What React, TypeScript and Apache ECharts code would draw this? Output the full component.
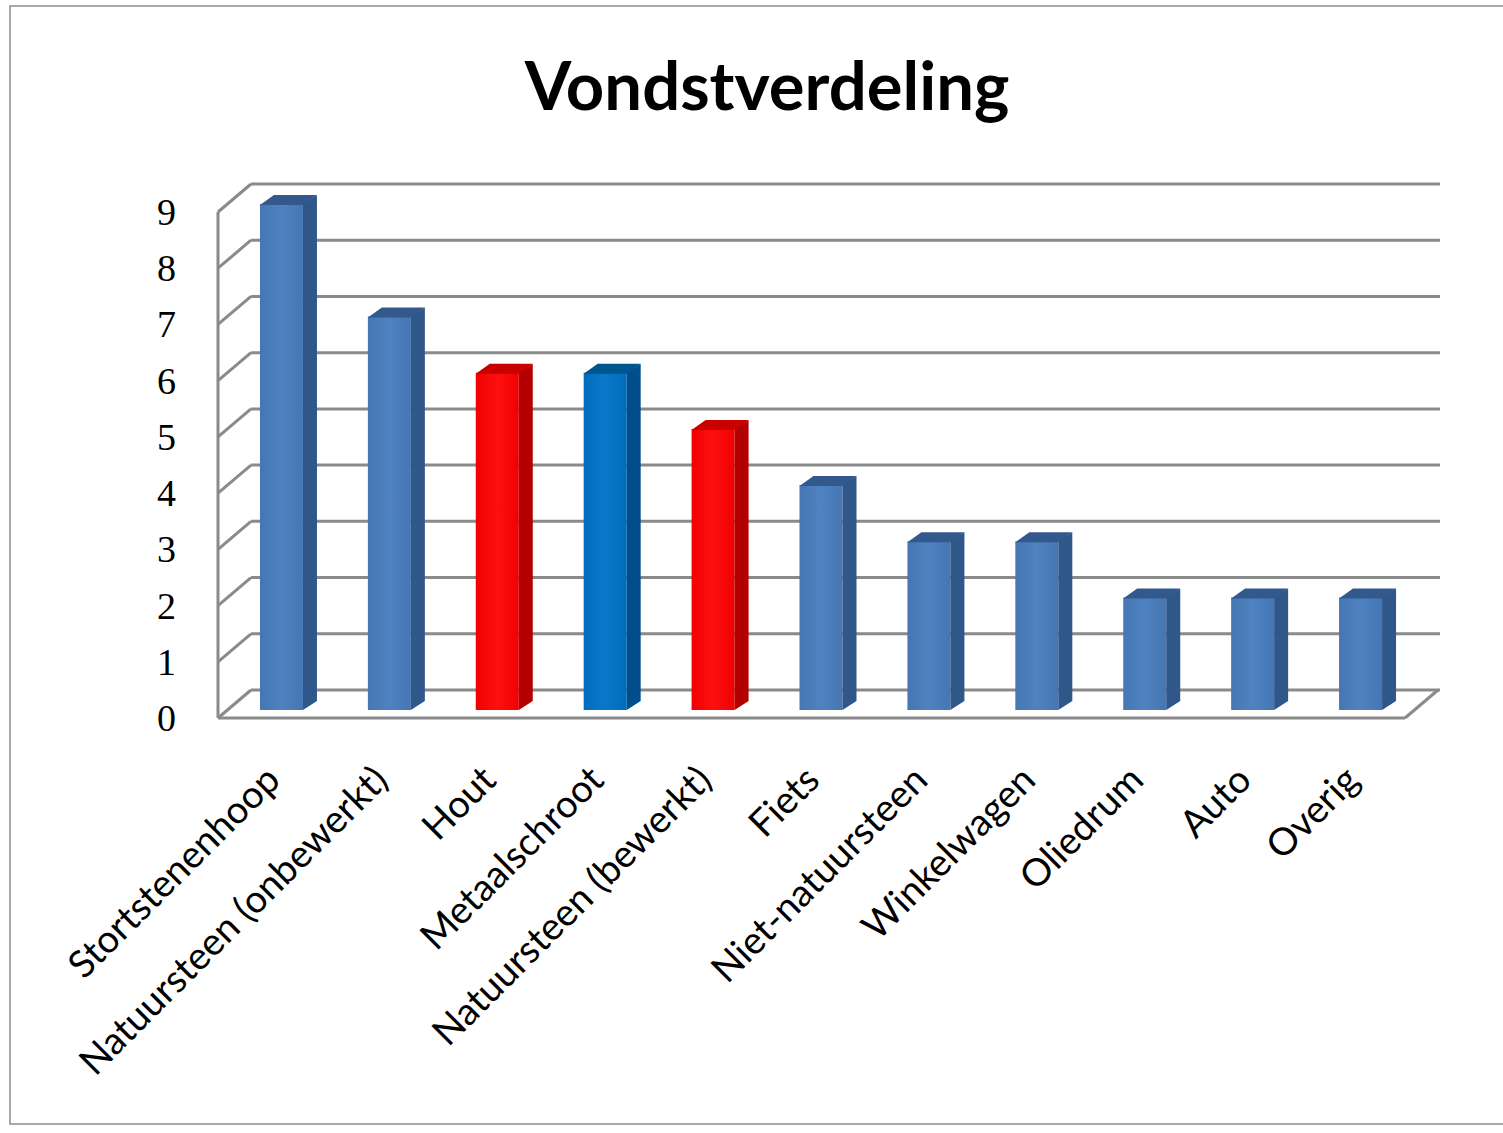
import React, { useEffect, useRef } from "react";
import * as echarts from "echarts";

const categories = [
  "Stortstenenhoop",
  "Natuursteen (onbewerkt)",
  "Hout",
  "Metaalschroot",
  "Natuursteen (bewerkt)",
  "Fiets",
  "Niet-natuursteen",
  "Winkelwagen",
  "Oliedrum",
  "Auto",
  "Overig",
];
const values = [9, 7, 6, 6, 5, 4, 3, 3, 2, 2, 2];
const barKinds = ["base", "base", "red", "deep", "red", "base", "base", "base", "base", "base", "base"];
const yTicks = [0, 1, 2, 3, 4, 5, 6, 7, 8, 9];

const PALETTE: Record<string, { front: string; mid: string; side: string; top: string }> = {
  base: { front: "#4676b4", mid: "#4f82c0", side: "#2f578a", top: "#33598c" },
  red: { front: "#f00000", mid: "#ff1010", side: "#b40000", top: "#c80000" },
  deep: { front: "#006cbc", mid: "#0a78c8", side: "#004f8c", top: "#00558f" },
};

const BACK_DX = 33;
const BACK_DY = -28;
const PLANE_DX = 9.5;
const PLANE_DY = -8;
const BAR_W = 43;
const BAR_DX = 14;
const BAR_DY = -9;
const WALL_COLOR = "#8a8a8a";

export default function App() {
  const ref = useRef<HTMLDivElement>(null);
  useEffect(() => {
    if (!ref.current) return;
    const chart = echarts.init(ref.current, undefined, { renderer: "svg" });

    const wallsRender = (params: any, api: any) => {
      const cs = params.coordSys;
      const L = cs.x;
      const R = cs.x + cs.width;
      const children: any[] = [];
      const ls = { stroke: WALL_COLOR, lineWidth: 3 };
      yTicks.forEach((v) => {
        const y = api.coord([0, v])[1];
        children.push({
          type: "line",
          shape: { x1: L + BACK_DX, y1: y + BACK_DY, x2: R + BACK_DX + 2, y2: y + BACK_DY },
          style: ls,
        });
        children.push({
          type: "line",
          shape: { x1: L, y1: y, x2: L + BACK_DX, y2: y + BACK_DY },
          style: ls,
        });
      });
      const y0 = api.coord([0, yTicks[0]])[1];
      const yMax = api.coord([0, yTicks[yTicks.length - 1]])[1];
      children.push({ type: "line", shape: { x1: L, y1: y0, x2: L, y2: yMax }, style: ls });
      children.push({ type: "line", shape: { x1: L, y1: y0, x2: R, y2: y0 }, style: ls });
      children.push({ type: "line", shape: { x1: R, y1: y0, x2: R + BACK_DX, y2: y0 + BACK_DY }, style: ls });
      return { type: "group", children };
    };

    const barsRender = (params: any, api: any) => {
      const idx = params.dataIndex;
      const pal = PALETTE[barKinds[idx]];
      const top = api.coord([api.value(0), api.value(1)]);
      const bot = api.coord([api.value(0), 0]);
      const x0 = top[0] + PLANE_DX - BAR_W / 2;
      const x1 = x0 + BAR_W;
      const yt = top[1] + PLANE_DY;
      const yb = bot[1] + PLANE_DY;
      return {
        type: "group",
        children: [
          {
            type: "rect",
            shape: { x: x0, y: yt, width: BAR_W, height: yb - yt },
            style: {
              fill: new echarts.graphic.LinearGradient(0, 0, 1, 0, [
                { offset: 0, color: pal.front },
                { offset: 0.5, color: pal.mid },
                { offset: 1, color: pal.front },
              ]),
            },
          },
          {
            type: "polygon",
            shape: { points: [[x1, yt], [x1 + BAR_DX, yt + BAR_DY], [x1 + BAR_DX, yb + BAR_DY], [x1, yb]] },
            style: { fill: pal.side },
          },
          {
            type: "polygon",
            shape: { points: [[x0, yt + 1], [x1, yt + 1], [x1 + BAR_DX, yt + BAR_DY], [x0 + BAR_DX, yt + BAR_DY]] },
            style: { fill: pal.top },
          },
        ],
      };
    };

    chart.setOption({
      animation: false,
      backgroundColor: "#ffffff",
      grid: { left: 218, right: 98, top: 212, bottom: 415, containLabel: false },
      graphic: [
        {
          type: "rect",
          shape: { x: 10, y: 6, width: 1500, height: 1118 },
          style: { fill: "none", stroke: "#8c8c8c", lineWidth: 1.5 },
          z: 0,
        },
        {
          type: "text",
          x: 767,
          y: 84,
          style: {
            text: "Vondstverdeling",
            font: "bold 67px Lato",
            fill: "#000000",
            textAlign: "center",
            textVerticalAlign: "middle",
          },
        },
      ],
      xAxis: {
        type: "category",
        data: categories,
        axisLine: { show: false },
        axisTick: { show: false },
        splitLine: { show: false },
        axisLabel: {
          interval: 0,
          rotate: 45,
          margin: 54,
          color: "#000000",
          fontFamily: "Lato",
          fontSize: 38,
        },
      },
      yAxis: {
        type: "value",
        min: 0,
        max: 9,
        interval: 1,
        axisLine: { show: false },
        axisTick: { show: false },
        splitLine: { show: false },
        axisLabel: {
          margin: 42,
          color: "#000000",
          fontFamily: "Liberation Serif",
          fontSize: 38,
        },
      },
      series: [
        {
          type: "custom",
          renderItem: wallsRender,
          data: [[0, 0]],
          clip: false,
          z: 1,
          silent: true,
        },
        {
          type: "custom",
          renderItem: barsRender,
          data: values.map((v, i) => [i, v]),
          clip: false,
          z: 2,
        },
      ],
    });
    return () => chart.dispose();
  }, []);
  return (
    <div
      ref={ref}
      style={{ position: "absolute", left: 0, top: 0, width: 1503, height: 1133 }}
    />
  );
}
